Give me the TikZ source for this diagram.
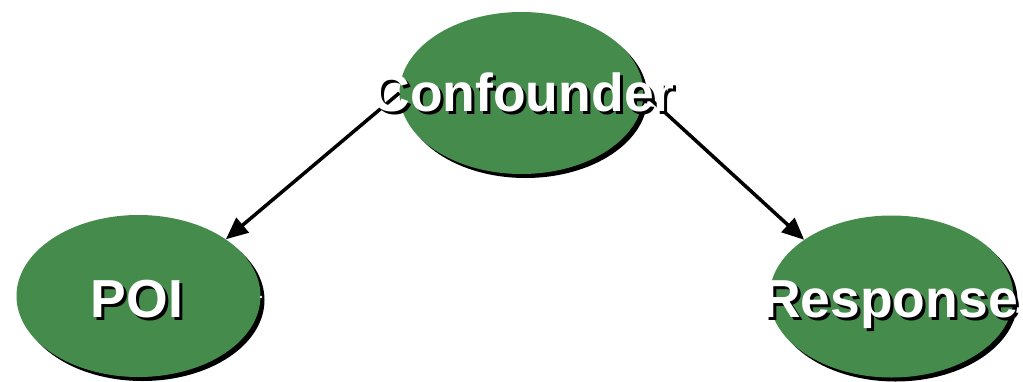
\documentclass[tikz,border=0pt]{standalone}
\usepackage{fontspec}
\setmainfont{Liberation Sans}
\usetikzlibrary{shapes.geometric,arrows.meta,shadows}
\definecolor{nodegreen}{RGB}{69,139,76}
\newcommand\shtxt[1]{\makebox[0pt][l]{\raisebox{-3pt}{\hspace{3pt}\color{black}#1}}{\color{white}#1}}
\tikzset{
  blob/.style={ellipse, fill=nodegreen, minimum width=244pt, minimum height=162pt, inner sep=0pt,
    drop shadow={shadow xshift=4pt, shadow yshift=-4pt, opacity=1, fill=black}},
  lbl/.style={anchor=base, inner sep=0pt, font=\fontsize{53.5}{54}\selectfont\bfseries},
  conn/.style={line width=3.5pt, -{Triangle[length=22pt, width=19pt]}}
}
\begin{document}
\begin{tikzpicture}[x=1pt,y=-1pt]
\useasboundingbox (0,0) rectangle (1023,381);
\node[blob] (conf) at (521.5,93) {};
\node[blob] (poi) at (138.5,296) {};
\node[blob] (resp) at (891.5,296.5) {};
\draw[conn] (conf.west) -- (poi.33);
\draw[conn] (conf.east) -- (resp.147);
\fill[white] (261,297) circle (1.3pt);
\node[lbl] (conft) at (523,111) {\shtxt{Confounder}};
\node[lbl] (poit) at (137,317) {\shtxt{POI}};
\node[lbl] (respt) at (890,317) {\shtxt{Response}};
\end{tikzpicture}
\end{document}
